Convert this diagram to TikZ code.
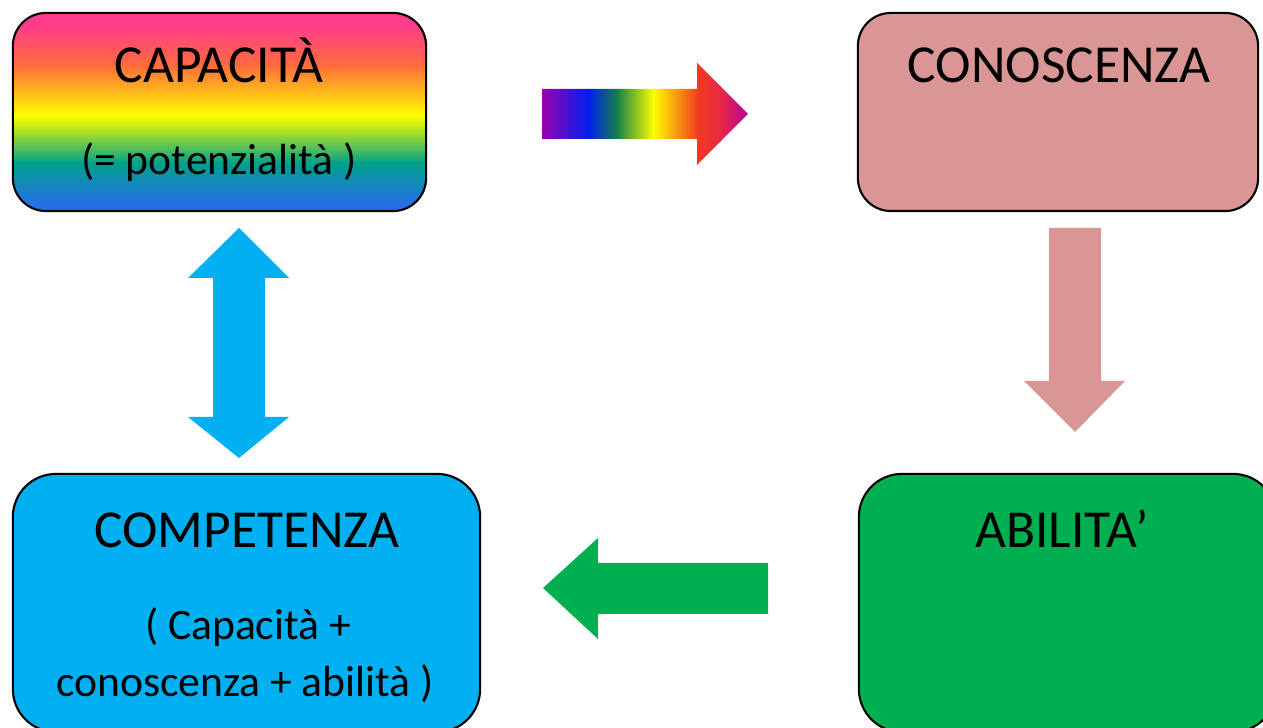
\documentclass[tikz,border=0pt]{standalone}
\usepackage{fontspec}
\setmainfont{Carlito}
\definecolor{pinkbox}{RGB}{217,150,148}
\definecolor{bluebox}{RGB}{0,176,240}
\definecolor{greenbox}{RGB}{0,176,80}
\definecolor{g1}{RGB}{255,60,140}
\definecolor{g2}{RGB}{255,108,60}
\definecolor{g3}{RGB}{255,255,0}
\definecolor{g4}{RGB}{150,215,50}
\definecolor{g5}{RGB}{0,160,140}
\definecolor{g6}{RGB}{40,110,235}
\definecolor{r1}{RGB}{160,0,170}
\definecolor{r2}{RGB}{0,30,240}
\definecolor{r3}{RGB}{20,130,70}
\definecolor{r4}{RGB}{255,255,0}
\definecolor{r5}{RGB}{240,60,30}
\definecolor{r6}{RGB}{232,40,70}
\definecolor{r7}{RGB}{180,0,160}
\tikzset{
  box/.style={draw=black, line width=0.6pt, rounded corners=#1, inner sep=0pt},
  lbl/.style={anchor=base, inner sep=0pt, font=\fontsize{15.2}{18}\selectfont},
  sub/.style={anchor=base, inner sep=0pt, font=\fontsize{12.4}{15}\selectfont},
}
\begin{document}
\begin{tikzpicture}[x=0.01cm,y=-0.01cm]
\useasboundingbox (0,0) rectangle (1263,728);
\clip (0,0) rectangle (1263,728);
% gradient box CAPACITA
\begin{scope}
\clip[rounded corners=0.33cm] (13,13) rectangle (426,211);
\shade[top color=g1,bottom color=g1] (10,10) rectangle (430,26);
\shade[top color=g1,bottom color=g2] (10,25) rectangle (430,66);
\shade[top color=g2,bottom color=g3] (10,65) rectangle (430,116);
\shade[top color=g3,bottom color=g4] (10,115) rectangle (430,136);
\shade[top color=g4,bottom color=g5] (10,135) rectangle (430,164);
\shade[top color=g5,bottom color=g6] (10,163) rectangle (430,206);
\shade[top color=g6,bottom color=g6] (10,205) rectangle (430,215);
\end{scope}
\node[box=0.33cm, minimum width=4.13cm, minimum height=1.98cm] (cap) at (219.5,112) {};
\node[lbl] (capt) at (219,83) {CAPACITÀ};
\node[sub] (caps) at (219,175) {(= potenzialità )};
% CONOSCENZA
\node[box=0.33cm, fill=pinkbox, minimum width=4.00cm, minimum height=1.98cm] (con) at (1058,112) {};
\node[lbl] (cont) at (1059,83) {CONOSCENZA};
% COMPETENZA
\node[box=0.43cm, fill=bluebox, minimum width=4.67cm, minimum height=2.58cm] (com) at (246.5,603) {};
\node[lbl] (comt) at (247,548) {COMPETENZA};
\node[sub] (coms1) at (248,640) {( Capacità +};
\node[sub] (coms2) at (245,697) {conoscenza + abilità )};
% ABILITA'
\node[box=0.43cm, fill=greenbox, minimum width=4.17cm, minimum height=2.58cm] (abi) at (1067.5,603) {};
\node[lbl] (abit) at (1062,548) {ABILITA’};
% rainbow arrow
\begin{scope}
\clip (542,89) -- (697,89) -- (697,63) -- (748,114) -- (697,165) -- (697,139) -- (542,139) -- cycle;
\shade[left color=r1,right color=r2] (540,60) rectangle (589,170);
\shade[left color=r2,right color=r3] (588,60) rectangle (618,170);
\shade[left color=r3,right color=r4] (617,60) rectangle (654,170);
\shade[left color=r4,right color=r5] (653,60) rectangle (698,170);
\shade[left color=r5,right color=r6] (697,60) rectangle (721,170);
\shade[left color=r6,right color=r7] (720,60) rectangle (750,170);
\end{scope}
% pink down arrow
\fill[pinkbox] (1049,228) -- (1101,228) -- (1101,381) -- (1125,381) -- (1075,432) -- (1024,381) -- (1049,381) -- cycle;
% green left arrow
\fill[greenbox] (768,563) -- (598,563) -- (598,538) -- (543,588) -- (598,639) -- (598,614) -- (768,614) -- cycle;
% blue double arrow
\fill[bluebox] (239,228) -- (289,278) -- (265,278) -- (265,417) -- (289,417) -- (239,458) -- (188,417) -- (213,417) -- (213,278) -- (188,278) -- cycle;
\end{tikzpicture}
\end{document}
